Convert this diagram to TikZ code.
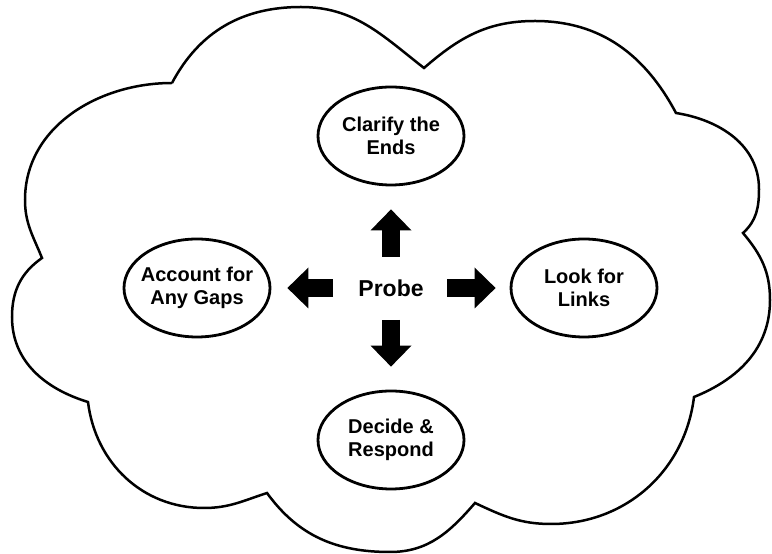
\documentclass[tikz,border=0pt]{standalone}
\usepackage{fontspec}
\setmainfont{Liberation Sans}
\usetikzlibrary{shapes.geometric,arrows.meta}

\begin{document}
\begin{tikzpicture}[x=1pt,y=1pt,
  idea/.style={draw, line width=2.8pt, ellipse, inner sep=0pt, inner xsep=-20pt,
    minimum width=146pt, minimum height=98pt, align=center,
    font=\fontsize{20}{23}\selectfont\bfseries},
  push/.style={line width=18pt, -{Triangle[width=41pt,length=21pt,line width=0pt]}},
  cloudline/.style={line width=2.5pt, line join=miter}]

\useasboundingbox (0,0) rectangle (772,554);

% corners of the cloud between the puffs
\coordinate (c1) at (172,471);
\coordinate (c2) at (424,486);
\coordinate (c3) at (676,441);
\coordinate (c4) at (743,321);
\coordinate (c5) at (694,157);
\coordinate (c6) at (475,51);
\coordinate (c7) at (267,61);
\coordinate (c8) at (88,152);
\coordinate (c9) at (42,296);
% outermost point of each puff
\coordinate (t1) at (301,547);
\coordinate (t2) at (535,533);
\coordinate (t3) at (759,365);
\coordinate (t4) at (770,254);
\coordinate (t5) at (551,30);
\coordinate (t6) at (390,2);
\coordinate (t7) at (204,46);
\coordinate (t8) at (12,237);
\coordinate (t9) at (25,354);
\draw [cloudline] (c1) to[out=62,in=180] (t1) to[out=0,in=142] (c2)
  to[out=41,in=180] (t2) to[out=0,in=118] (c3)
  to[out=-9,in=90] (t3) to[out=-90,in=42] (c4)
  to[out=-50,in=90] (t4) to[out=-90,in=22] (c5)
  to[out=263,in=0] (t5) to[out=180,in=-25] (c6)
  to[out=229,in=0] (t6) to[out=180,in=-54] (c7)
  to[out=198,in=0] (t7) to[out=180,in=-83] (c8)
  to[out=163,in=-90] (t8) to[out=90,in=-145] (c9)
  to[out=112,in=-90] (t9) to[out=90,in=180] (c1);

\node [idea] (ends) at (391,418) {Clarify the\\Ends};
\node [idea] (gaps) at (197,266) {Account for\\Any Gaps};
\node [idea] (links) at (584,266) {Look for\\Links};
\node [idea] (respond) at (391,114) {Decide \&\\Respond};
\node [font=\fontsize{23}{26}\selectfont\bfseries] (probe) at (391,266) {Probe};

\draw [push, shorten <=31pt, shorten >=23pt] (probe.center) -- (ends.south);
\draw [push, shorten <=32pt, shorten >=23pt] (probe.center) -- (respond.north);
\draw [push, shorten <=58pt, shorten >=16pt] (probe.center) -- (gaps.east);
\draw [push, shorten <=56pt, shorten >=14pt] (probe.center) -- (links.west);

\end{tikzpicture}
\end{document}
